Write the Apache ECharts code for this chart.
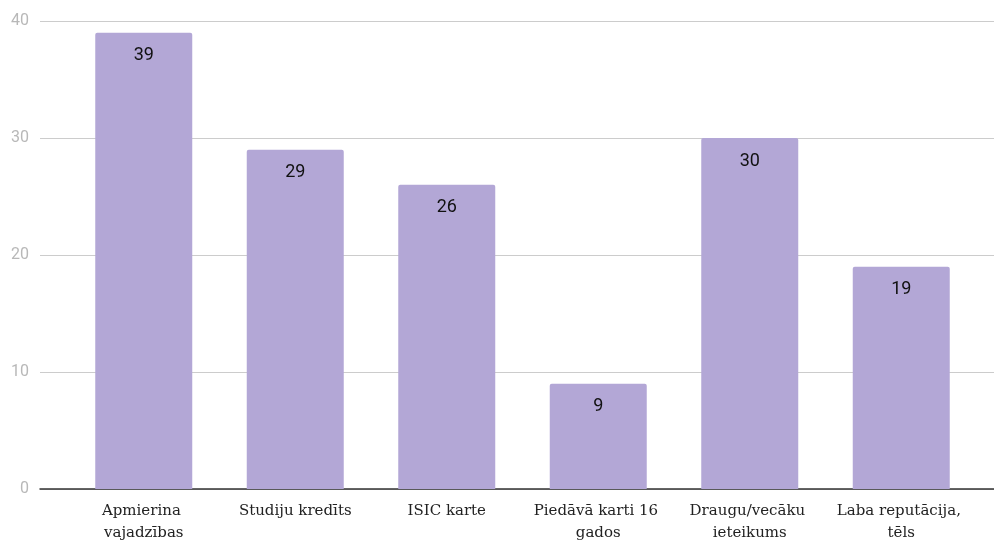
<!DOCTYPE html>
<html>
<head>
<meta charset="utf-8">
<script src="https://cdn.jsdelivr.net/npm/echarts@6/dist/echarts.min.js"></script>
<style>
  html, body { margin: 0; padding: 0; background: #fff; }
  #chart { width: 994px; height: 545px; }
</style>
</head>
<body>
<div id="chart"></div>
<script>
// kategorijas un vērtības
const categories = ['Apmierina vajadzības', 'Studiju kredīts', 'ISIC karte', 'Piedāvā karti 16 gados', 'Draugu/vecāku ieteikums', 'Laba reputācija, tēls'];
const values = [39, 29, 26, 9, 30, 19];
const yTicks = [0, 10, 20, 30, 40];

const chart = echarts.init(document.getElementById('chart'));

const option = {
  animation: false,
  // grid 0: režģa līnijas un y ass; grid 1: stabiņi
  grid: [
    { left: 40, right: 0, top: 21, bottom: 56 },
    { left: 68, right: 17, top: 21, bottom: 56 }
  ],
  xAxis: [
    {
      gridIndex: 0, type: 'category', data: [''],
      axisLine: { lineStyle: { color: '#333', width: 1.5 } },
      axisTick: { show: false }, axisLabel: { show: false }
    },
    {
      gridIndex: 1, type: 'category', data: categories,
      axisLine: { show: false }, axisTick: { show: false },
      axisLabel: {
        interval: 0, margin: 11, color: '#222',
        fontFamily: 'DejaVu Serif', fontSize: 15, lineHeight: 22,
        width: 142, overflow: 'break'
      }
    }
  ],
  yAxis: [
    {
      gridIndex: 0, type: 'value', min: yTicks[0], max: yTicks[yTicks.length - 1], interval: 10,
      axisLine: { show: false }, axisTick: { show: false },
      axisLabel: { color: '#b8b8b8', fontFamily: 'Roboto', fontSize: 16, margin: 11 },
      splitLine: { lineStyle: { color: '#cccccc', width: 1 } }
    },
    {
      gridIndex: 1, type: 'value', min: yTicks[0], max: yTicks[yTicks.length - 1], interval: 10,
      show: false
    }
  ],
  series: [
    {
      type: 'bar', xAxisIndex: 1, yAxisIndex: 1,
      data: values, barWidth: 97,
      itemStyle: { color: '#b3a7d6', borderRadius: [2, 2, 0, 0] },
      label: {
        show: true, position: 'insideTop', distance: 14,
        color: '#111', fontFamily: 'Roboto', fontSize: 18
      }
    }
  ]
};

chart.setOption(option);
window.addEventListener('resize', function () { chart.resize(); });
</script>
</body>
</html>
